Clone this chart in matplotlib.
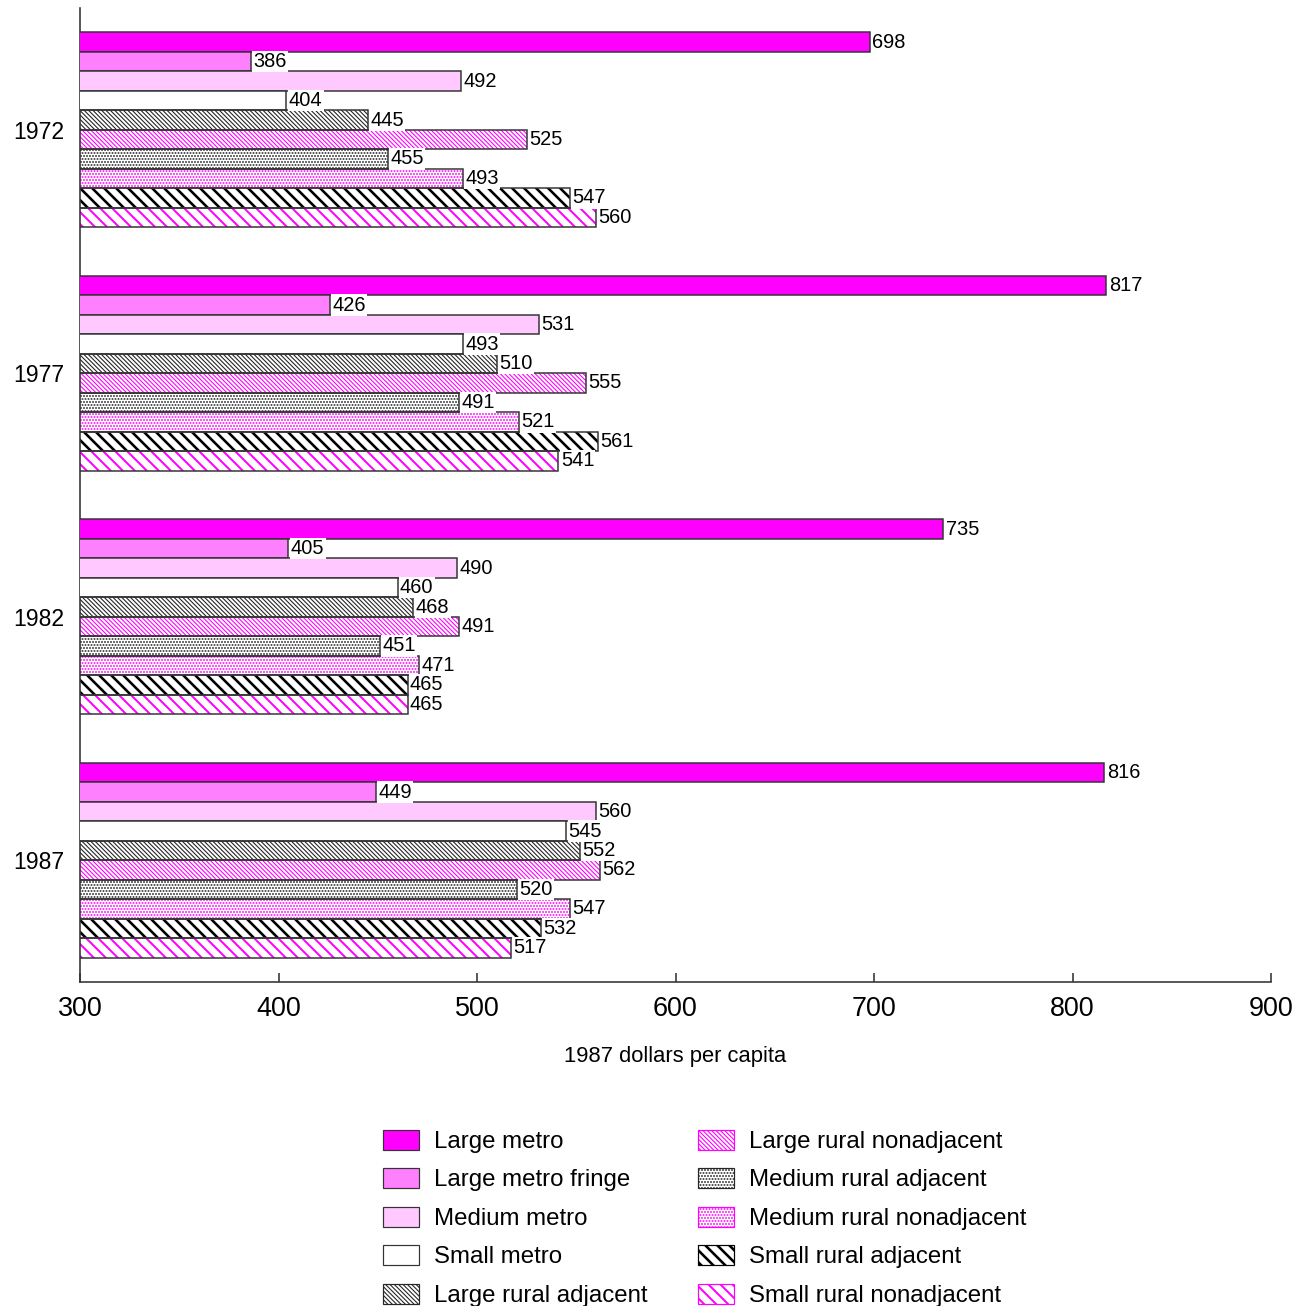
import matplotlib
matplotlib.use("Agg")
import matplotlib.pyplot as plt
from matplotlib.patches import Patch
import numpy as np

plt.rcParams['font.family'] = ['Liberation Sans', 'DejaVu Sans']

years = ['1972', '1977', '1982', '1987']
categories = ['Large metro', 'Large metro fringe', 'Medium metro', 'Small metro',
              'Large rural adjacent', 'Large rural nonadjacent',
              'Medium rural adjacent', 'Medium rural nonadjacent',
              'Small rural adjacent', 'Small rural nonadjacent']

values_1972 = [698, 386, 492, 404, 445, 525, 455, 493, 547, 560]
values_1977 = [817, 426, 531, 493, 510, 555, 491, 521, 561, 541]
values_1982 = [735, 405, 490, 460, 468, 491, 451, 471, 465, 465]
values_1987 = [816, 449, 560, 545, 552, 562, 520, 547, 532, 517]
values = [values_1972, values_1977, values_1982, values_1987]

xticks = [300, 400, 500, 600, 700, 800, 900]

MAG = '#ff00ff'
EDGE = '#333333'
# (face colour, hatch colour, hatch pattern, hatch line width)
styles = [
    (MAG, None, None, 0),
    ('#ff80ff', None, None, 0),
    ('#ffc8ff', None, None, 0),
    ('white', None, None, 0),
    ('white', '#262626', '\\' * 11, 0.55),
    ('white', MAG, '\\' * 11, 0.55),
    ('white', '#262626', '.' * 8, 0.65),
    ('white', MAG, '.' * 8, 0.65),
    ('white', 'black', '\\' * 4, 1.3),
    ('white', MAG, '\\' * 4, 1.0),
]

DPI = 144
fig = plt.figure(figsize=(1303 / DPI, 1306 / DPI), dpi=DPI)
ax = fig.add_axes([80 / 1303, 1 - 982 / 1306, 1191 / 1303, 974 / 1306])

bar_h = 0.08
n = len(categories)


def set_hlw(patch, hlw):
    if hlw and hasattr(patch, 'set_hatch_linewidth'):
        patch.set_hatch_linewidth(hlw)


def hatched_bar(y, v, face, hcol, hatch, hlw):
    with plt.rc_context({'hatch.linewidth': hlw if hlw else 1.0}):
        if hatch:
            b = ax.barh(y, v, height=bar_h, color=face, edgecolor=hcol,
                        hatch=hatch, linewidth=0, zorder=2)
            for p in b:
                set_hlw(p, hlw)
        ax.barh(y, v, height=bar_h, color=face if not hatch else 'none',
                edgecolor=EDGE, linewidth=0.75, zorder=3)


for g, vals in enumerate(values):
    for i, v in enumerate(vals):
        y = g + (i - (n - 1) / 2) * bar_h
        face, hcol, hatch, hlw = styles[i]
        hatched_bar(y, v, face, hcol, hatch, hlw)
        ax.annotate(str(v), xy=(v, y), xytext=(1.2, 0), textcoords='offset points',
                    ha='left', va='center', fontsize=10, zorder=4,
                    bbox=dict(facecolor='white', edgecolor='none', pad=0.6))

ax.set_xlim(300, 900)
ax.set_ylim(3.5, -0.5)
ax.set_xticks(xticks)
ax.set_xticklabels([str(t) for t in xticks], fontsize=13.5)
ax.set_yticks(range(len(years)))
ax.set_yticklabels(years, fontsize=11.5)
ax.tick_params(axis='y', length=0, pad=8)
ax.tick_params(axis='x', direction='in', length=4.5, width=0.8, color='#333333', pad=7)
ax.spines['top'].set_visible(False)
ax.spines['right'].set_visible(False)
for s in ('left', 'bottom'):
    ax.spines[s].set_color('#333333')
    ax.spines[s].set_linewidth(0.8)
ax.set_xlabel('1987 dollars per capita', fontsize=11, labelpad=12)

handles = []
for (face, hcol, hatch, hlw), name in zip(styles, categories):
    if hatch:
        h = Patch(facecolor=face, edgecolor=hcol, hatch=hatch, linewidth=0.6, label=name)
    else:
        h = Patch(facecolor=face, edgecolor=EDGE, linewidth=0.6, label=name)
    handles.append(h)

leg = fig.legend(handles=handles, ncol=2, loc='upper center',
                 bbox_to_anchor=(705 / 1303, 1 - 1108 / 1306), frameon=False,
                 fontsize=12, handlelength=1.5, handleheight=0.92,
                 handletextpad=0.62, labelspacing=0.63, columnspacing=2.1)
for patch, (face, hcol, hatch, hlw) in zip(leg.get_patches(), styles):
    set_hlw(patch, hlw)

fig.savefig('out.png', dpi=DPI)
